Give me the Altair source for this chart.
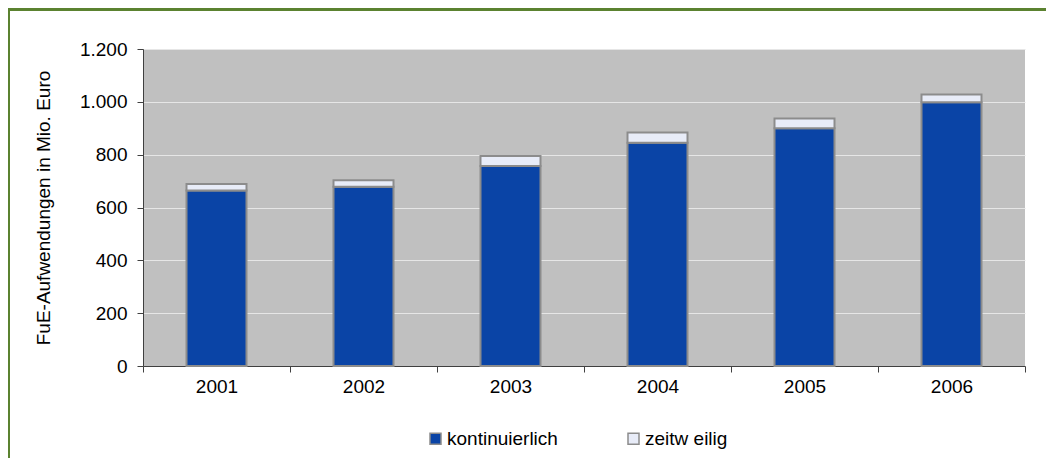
import altair as alt
import pandas as pd

years = ["2001", "2002", "2003", "2004", "2005", "2006"]
kontinuierlich = [664, 679, 757, 845, 900, 998]
zeitweilig = [25, 24, 38, 39, 37, 30]
series = ["kontinuierlich", "zeitw eilig"]
colors = ["#0A44A6", "#E8ECF8"]
y_ticks = [0, 200, 400, 600, 800, 1000, 1200]

rows = []
for i, y in enumerate(years):
    rows.append({"Jahr": y, "Art": series[0], "Wert": kontinuierlich[i], "o": 0})
    rows.append({"Jahr": y, "Art": series[1], "Wert": zeitweilig[i], "o": 1})
df = pd.DataFrame(rows)

FONT = "Liberation Sans"
W, H = 882, 317

bars = alt.Chart(df).mark_bar(
    size=60, stroke="#8c8c8c", strokeWidth=2
).encode(
    x=alt.X("Jahr:N", sort=years, title=None,
            scale=alt.Scale(paddingInner=0, paddingOuter=0),
            axis=alt.Axis(labelAngle=0, tickBand="extent", tickSize=6,
                          labelPadding=5, domainColor="#404040",
                          tickColor="#404040", labelColor="black",
                          labelFontSize=19, labelFont=FONT, grid=False)),
    y=alt.Y("Wert:Q", stack="zero",
            title="FuE-Aufwendungen in Mio. Euro",
            scale=alt.Scale(domain=[0, 1200], nice=False),
            axis=alt.Axis(values=y_ticks, tickSize=6, labelPadding=10,
                          labelExpr="replace(format(datum.value, ','), ',', '.')",
                          domainColor="#404040", tickColor="#404040",
                          labelColor="black", labelFontSize=19, labelFont=FONT,
                          titleFont=FONT, titleFontSize=19, titleFontWeight="normal",
                          titleColor="black", titlePadding=26,
                          grid=True, gridColor="#E6E6E6", gridWidth=1.2)),
    color=alt.Color("Art:N", scale=alt.Scale(domain=series, range=colors),
                    legend=alt.Legend(title=None, orient="none", direction="horizontal",
                                      legendX=283, legendY=380,
                                      symbolType="square", symbolSize=121,
                                      symbolStrokeColor="#8c8c8c", symbolStrokeWidth=1.5,
                                      labelFontSize=19, labelFont=FONT, labelColor="black",
                                      labelOffset=2, columnPadding=66)),
    order=alt.Order("o:Q", sort="ascending"),
)

one = pd.DataFrame({"a": [0]})
top_line = alt.Chart(one).mark_rule(color="#5B8230", strokeWidth=3).encode(
    x=alt.value(-136), x2=alt.value(W + 40), y=alt.value(-39.5))
left_line = alt.Chart(one).mark_rule(color="#5B8230", strokeWidth=3).encode(
    x=alt.value(-134.5), y=alt.value(-41), y2=alt.value(H + 110))

chart = alt.layer(bars, top_line, left_line).properties(
    width=W, height=H,
    autosize=alt.AutoSizeParams(type="none"),
    padding={"left": 135, "top": 41, "right": 21, "bottom": 92},
    background="white",
).configure_view(fill="#C0C0C0", stroke=None)

chart.save("out.html", embed_options={"renderer": "svg", "actions": False})
